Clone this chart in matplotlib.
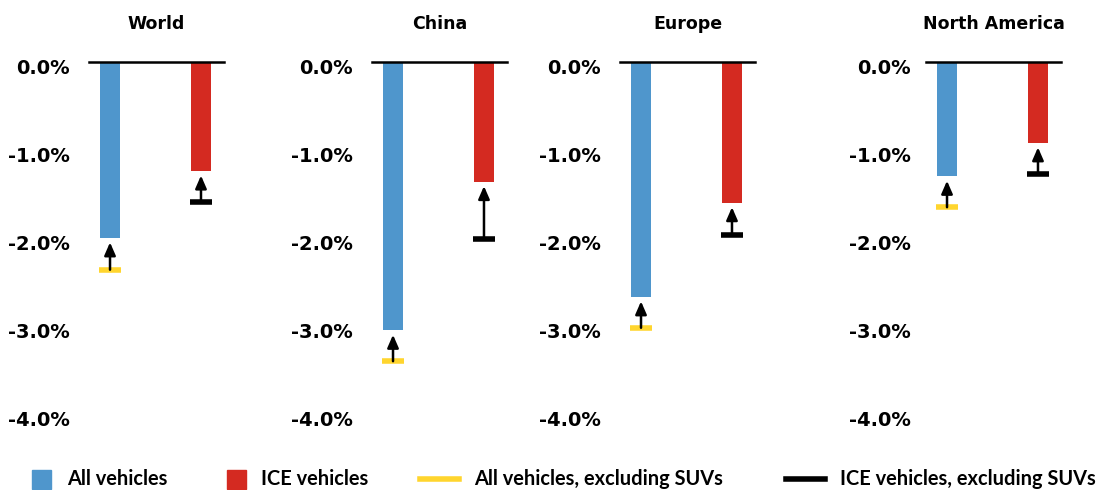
import matplotlib.pyplot as plt
from matplotlib.patches import Rectangle
from matplotlib.lines import Line2D
import matplotlib.transforms as mtransforms

plt.rcParams['font.family'] = 'DejaVu Sans'

# values (percent change)
regions = ['World', 'China', 'Europe', 'North America']
all_vehicles = [-2.00, -3.05, -2.67, -1.30]
ice_vehicles = [-1.24, -1.36, -1.60, -0.92]
all_excl_suv = [-2.36, -3.40, -3.02, -1.65]
ice_excl_suv = [-1.59, -2.01, -1.97, -1.27]
yticks = [0, -1, -2, -3, -4]

BLUE = '#4f96cc'
RED = '#d42a21'
YELLOW = '#ffd52e'

fig = plt.figure(figsize=(11.05, 4.9), dpi=100)

# panel left edges in pixels (panels are not evenly spaced)
left_px = [89, 372, 620, 926]
W, H = 1105, 490
pw = 135

for i, name in enumerate(regions):
    ax = fig.add_axes([left_px[i] / W, 1 - 414 / H, pw / W, 352 / H])
    ax.bar([0, 1], [all_vehicles[i], ice_vehicles[i]], width=0.22,
           color=[BLUE, RED], zorder=2)
    # excluding-SUV markers with arrows back up to the bar
    for x, bar_v, ex_v, c in [(0, all_vehicles[i], all_excl_suv[i], YELLOW),
                              (1, ice_vehicles[i], ice_excl_suv[i], 'black')]:
        ax.hlines(ex_v, x - 0.12, x + 0.12, color=c, lw=4, zorder=3)
        ax.annotate('', xy=(x, bar_v - 0.05), xytext=(x, ex_v),
                    arrowprops=dict(arrowstyle='-|>,head_length=0.55,head_width=0.24',
                                    color='black', lw=1.8,
                                    mutation_scale=14, shrinkA=0, shrinkB=0))
    ax.axhline(0, color='black', lw=1.8, clip_on=False, zorder=4)
    ax.set_xlim(-0.231, 1.253)
    ax.set_ylim(-4, 0)
    ax.set_xticks([])
    ax.set_yticks(yticks)
    ax.set_yticklabels([f'{v:.1f}%' for v in yticks], fontsize=14, fontweight='bold')
    ax.tick_params(axis='y', length=0, pad=14 if i != 3 else 11)
    off = mtransforms.ScaledTranslation(0, -3 / 72, fig.dpi_scale_trans)
    for lab in ax.get_yticklabels():
        lab.set_transform(lab.get_transform() + off)
    for s in ax.spines.values():
        s.set_visible(False)
    ax.set_title(name, fontsize=12.5, fontweight='bold', pad=24)

# legend along the bottom edge
leg_y = 1 - 479 / H
fig.patches.append(Rectangle((32 / W, 1 - 489 / H), 19 / W, 19 / H,
                             transform=fig.transFigure, color=BLUE))
fig.patches.append(Rectangle((227 / W, 1 - 489 / H), 19 / W, 19 / H,
                             transform=fig.transFigure, color=RED))
fig.lines.append(Line2D([420 / W, 459 / W], [leg_y, leg_y], transform=fig.transFigure,
                        color=YELLOW, lw=4))
fig.lines.append(Line2D([786 / W, 825 / W], [leg_y, leg_y], transform=fig.transFigure,
                        color='black', lw=4))
leg_labels = ['All vehicles', 'ICE vehicles', 'All vehicles, excluding SUVs',
              'ICE vehicles, excluding SUVs']
leg_x = [67, 261, 474, 840]
for lx, lab in zip(leg_x, leg_labels):
    fig.text(lx / W, leg_y, lab, family='Lato', fontweight='bold', fontsize=14.4,
             va='center', ha='left')

fig.savefig('out.png', dpi=100)
